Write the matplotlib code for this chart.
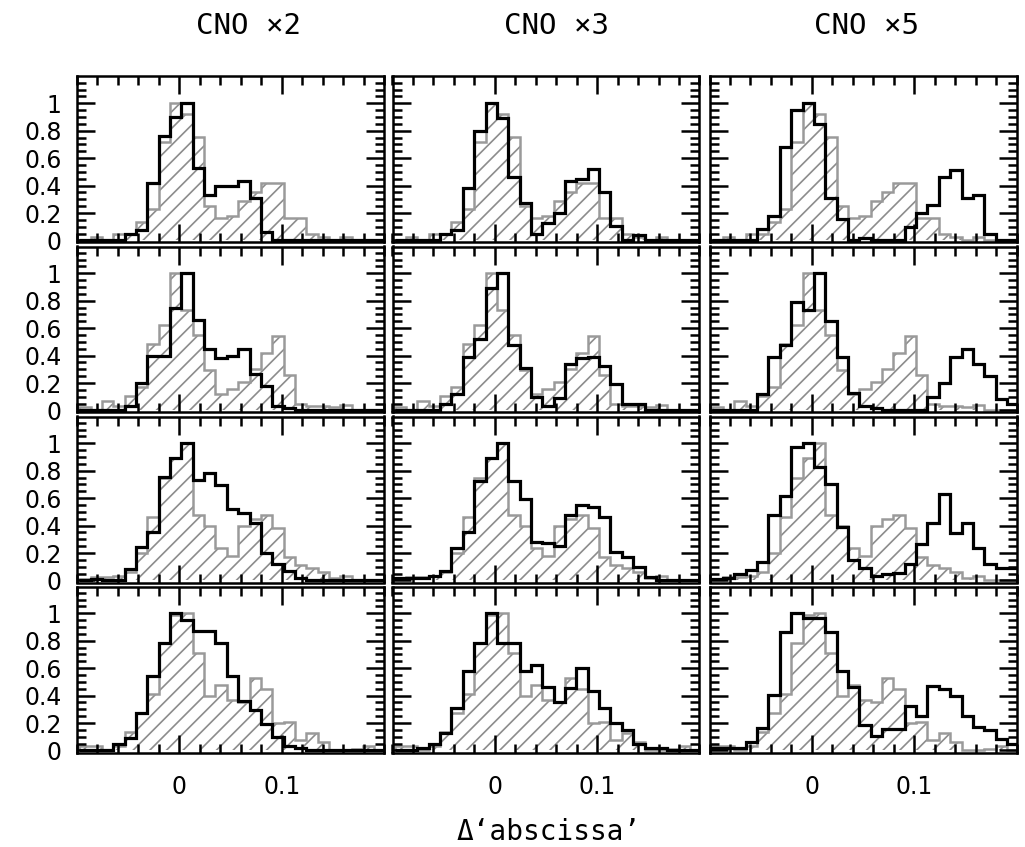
import numpy as np
import matplotlib
matplotlib.use("Agg")
import matplotlib.pyplot as plt
from matplotlib.ticker import MultipleLocator, FixedLocator, FuncFormatter


# bin layout of the histograms (in Delta 'abscissa')
BIN_START = -0.0979
BIN_WIDTH = 0.0111
N_BINS = 27

COLUMN_TITLES = ["CNO \u00d72", "CNO \u00d73", "CNO \u00d75"]
X_LABEL = "\u0394\u2018abscissa\u2019"
X_MAJOR_TICKS = [0.0, 0.1]

# gray hatched histogram, one per row (same in every column)
gray_row1 = [0.0, 0.027, 0.0, 0.044, 0.046, 0.136, 0.226, 0.715, 1.0, 0.92, 0.757, 0.25, 0.16, 0.18,
             0.29, 0.355, 0.416, 0.416, 0.16, 0.16, 0.046, 0.027, 0.0, 0.027, 0.0, 0.0, 0.0]
gray_row2 = [0.027, 0.0, 0.07, 0.035, 0.105, 0.173, 0.484, 0.62, 1.0, 0.73, 0.55, 0.295, 0.12, 0.156,
             0.21, 0.30, 0.416, 0.54, 0.26, 0.05, 0.034, 0.034, 0.027, 0.04, 0.0, 0.0, 0.0]
gray_row3 = [0.01, 0.027, 0.027, 0.034, 0.063, 0.2, 0.46, 0.745, 0.89, 1.0, 0.477, 0.40, 0.234, 0.18,
             0.40, 0.45, 0.48, 0.385, 0.17, 0.11, 0.088, 0.058, 0.015, 0.034, 0.0, 0.0, 0.0]
gray_row4 = [0.034, 0.034, 0.0, 0.03, 0.136, 0.27, 0.41, 0.78, 0.99, 1.0, 0.71, 0.40, 0.48, 0.37,
             0.35, 0.53, 0.45, 0.20, 0.21, 0.075, 0.124, 0.058, 0.0, 0.0, 0.01, 0.034, 0.0]

# black outline histograms, [row][column]
black_r1_c1 = [0.0, 0.0, 0.0, 0.0, 0.046, 0.075, 0.42, 0.76, 0.90, 1.0, 0.53, 0.33, 0.40, 0.40,
               0.435, 0.31, 0.063, 0.0, 0.0, 0.0, 0.0, 0.0, 0.0, 0.0, 0.0, 0.0, 0.0]
black_r1_c2 = [0.0, 0.0, 0.0, 0.0, 0.05, 0.075, 0.38, 0.80, 1.0, 0.895, 0.465, 0.27, 0.05, 0.124,
               0.197, 0.43, 0.45, 0.52, 0.355, 0.107, 0.0, 0.04, 0.0, 0.0, 0.0, 0.0, 0.0]
black_r1_c3 = [0.0, 0.0, 0.0, 0.0, 0.08, 0.178, 0.68, 0.95, 1.0, 0.85, 0.31, 0.156, 0.0, 0.02,
               0.0, 0.0, 0.0, 0.1, 0.197, 0.26, 0.465, 0.51, 0.31, 0.33, 0.046, 0.0, 0.0]

black_r2_c1 = [0.0, 0.0, 0.0, 0.0, 0.03, 0.197, 0.395, 0.395, 0.75, 1.0, 0.66, 0.45, 0.385, 0.40,
               0.45, 0.265, 0.18, 0.034, 0.02, 0.0, 0.0, 0.0, 0.0, 0.0, 0.0, 0.0, 0.0]
black_r2_c2 = [0.0, 0.0, 0.0, 0.0, 0.05, 0.12, 0.387, 0.52, 0.895, 1.0, 0.48, 0.306, 0.10, 0.034,
               0.088, 0.34, 0.38, 0.39, 0.326, 0.19, 0.044, 0.044, 0.0, 0.0, 0.0, 0.0, 0.0]
black_r2_c3 = [0.0, 0.0, 0.0, 0.0, 0.12, 0.39, 0.48, 0.79, 0.73, 1.0, 0.65, 0.39, 0.124, 0.034,
               0.015, 0.0, 0.0, 0.0, 0.0, 0.1, 0.197, 0.39, 0.445, 0.34, 0.25, 0.08, 0.05]

black_r3_c1 = [0.005, 0.01, 0.005, 0.0, 0.083, 0.246, 0.35, 0.757, 0.895, 1.0, 0.73, 0.786, 0.696, 0.52,
               0.49, 0.416, 0.197, 0.12, 0.07, 0.015, 0.0, 0.0, 0.0, 0.0, 0.0, 0.0, 0.0]
black_r3_c2 = [0.015, 0.015, 0.015, 0.034, 0.068, 0.24, 0.355, 0.727, 0.895, 1.0, 0.727, 0.594, 0.277, 0.27,
               0.25, 0.477, 0.55, 0.533, 0.46, 0.21, 0.173, 0.1, 0.027, 0.0, 0.0, 0.0, 0.0]
black_r3_c3 = [0.007, 0.02, 0.044, 0.075, 0.136, 0.477, 0.615, 0.97, 1.0, 0.83, 0.703, 0.39, 0.148, 0.088,
               0.034, 0.046, 0.056, 0.117, 0.263, 0.42, 0.63, 0.343, 0.416, 0.24, 0.12, 0.088, 0.088]

black_r4_c1 = [0.0, 0.0, 0.0, 0.05, 0.088, 0.275, 0.54, 0.78, 1.0, 0.95, 0.873, 0.873, 0.786, 0.545,
               0.363, 0.294, 0.19, 0.1, 0.034, 0.02, 0.0, 0.0, 0.0, 0.0, 0.0, 0.0, 0.0]
black_r4_c2 = [0.005, 0.005, 0.015, 0.05, 0.124, 0.31, 0.58, 0.786, 1.0, 0.786, 0.786, 0.58, 0.62, 0.465,
               0.35, 0.457, 0.6, 0.43, 0.31, 0.197, 0.148, 0.05, 0.015, 0.015, 0.0, 0.0, 0.0]
black_r4_c3 = [0.015, 0.02, 0.02, 0.058, 0.16, 0.404, 0.866, 1.0, 0.963, 0.963, 0.866, 0.58, 0.46, 0.185,
               0.107, 0.156, 0.156, 0.326, 0.25, 0.47, 0.445, 0.397, 0.25, 0.173, 0.148, 0.08, 0.05]

gray_rows = [gray_row1, gray_row2, gray_row3, gray_row4]
black_grid = [
    [black_r1_c1, black_r1_c2, black_r1_c3],
    [black_r2_c1, black_r2_c2, black_r2_c3],
    [black_r3_c1, black_r3_c2, black_r3_c3],
    [black_r4_c1, black_r4_c2, black_r4_c3],
]


def tick_label(value, pos):
    text = f"{value:.1f}"
    if text.endswith(".0"):
        text = text[:-2]
    if text == "-0":
        text = "0"
    return text


def style_axes(ax, show_x, show_y):
    ax.set_xlim(-0.1, 0.2)
    ax.set_ylim(-0.015, 1.195)

    ax.xaxis.set_major_locator(FixedLocator(X_MAJOR_TICKS))
    ax.xaxis.set_minor_locator(MultipleLocator(0.02))
    ax.yaxis.set_major_locator(MultipleLocator(0.2))
    ax.yaxis.set_minor_locator(MultipleLocator(0.05))
    ax.xaxis.set_major_formatter(FuncFormatter(tick_label))
    ax.yaxis.set_major_formatter(FuncFormatter(tick_label))

    ax.tick_params(which="both", direction="in", top=True, right=True, width=1.8,
                   labelsize=17, colors="black")
    ax.tick_params(which="major", length=13)
    ax.tick_params(which="minor", length=6.5)
    ax.tick_params(axis="x", pad=16, labelbottom=show_x)
    ax.tick_params(axis="y", pad=11, labelleft=show_y)

    for spine in ax.spines.values():
        spine.set_linewidth(1.8)


plt.rcParams["hatch.linewidth"] = 1.2

fig = plt.figure(figsize=(10.25, 8.47), dpi=100)
W, H = 1025.0, 847.0

col_left_px = [77.0, 392.5, 709.5]
col_width_px = 307.0
row_top_px = [76.5, 246.5, 416.5, 586.5]
row_height_px = 166.0
title_x_px = [248.0, 557.0, 866.0]

edges = BIN_START + BIN_WIDTH * np.arange(N_BINS + 1)

for r in range(4):
    for c in range(3):
        left = col_left_px[c] / W
        bottom = 1.0 - (row_top_px[r] + row_height_px) / H
        ax = fig.add_axes([left, bottom, col_width_px / W, row_height_px / H])

        gray_vals = np.array(gray_rows[r])
        black_vals = np.array(black_grid[r][c])

        ax.stairs(gray_vals, edges, baseline=0, fill=True, facecolor="none",
                  edgecolor="#8c8c8c", hatch="//", linewidth=0)
        ax.stairs(gray_vals, edges, baseline=0, color="#9a9a9a", linewidth=1.8)
        ax.stairs(black_vals, edges, baseline=0, color="black", linewidth=2.3)

        style_axes(ax, show_x=(r == 3), show_y=(c == 0))

for c in range(3):
    fig.text(title_x_px[c] / W, 1.0 - 26.0 / H, COLUMN_TITLES[c], ha="center", va="center",
             fontsize=21, family="DejaVu Sans Mono")

fig.text(549.0 / W, 1.0 - 832.0 / H, X_LABEL, ha="center", va="center", fontsize=20,
         family="DejaVu Sans Mono")

fig.savefig("out.png", dpi=100)
